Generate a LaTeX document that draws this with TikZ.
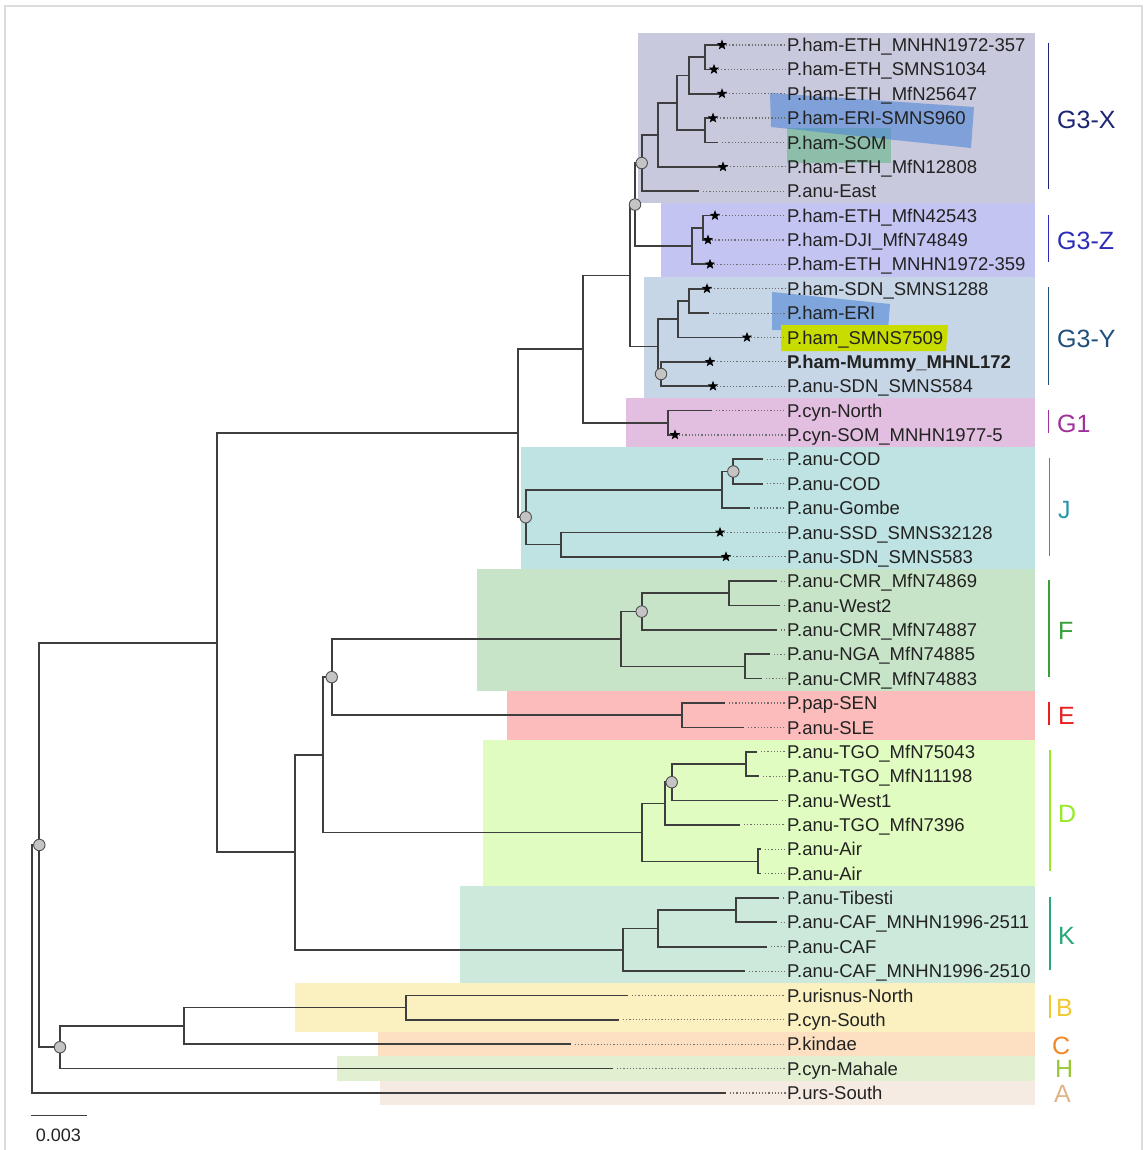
\documentclass[tikz,border=0pt]{standalone}
\usepackage{fontspec}
\setmainfont{Liberation Sans}
\usetikzlibrary{shapes.geometric}
\definecolor{treeC}{HTML}{3E3E3E}
\definecolor{dotC}{HTML}{6E6E6E}
\definecolor{labC}{HTML}{222222}
\definecolor{circF}{HTML}{C4C4C4}
\definecolor{circD}{HTML}{505050}
\definecolor{frameC}{HTML}{DCDCDC}
\definecolor{bgX}{HTML}{C9C9DD}
\definecolor{bgZ}{HTML}{C4C4F2}
\definecolor{bgY}{HTML}{C6D6E6}
\definecolor{bgGa}{HTML}{E2BEE0}
\definecolor{bgJ}{HTML}{BFE2E2}
\definecolor{bgF}{HTML}{C8E4C8}
\definecolor{bgE}{HTML}{FCBCBC}
\definecolor{bgD}{HTML}{E0FCC0}
\definecolor{bgK}{HTML}{CDE9DC}
\definecolor{bgB}{HTML}{FAF0C0}
\definecolor{bgC}{HTML}{FDE0C2}
\definecolor{bgH}{HTML}{E2F0D2}
\definecolor{bgA}{HTML}{F5EBE2}
\definecolor{hlBlue}{HTML}{4F86D6}
\definecolor{hlGreen}{HTML}{86BDA4}
\definecolor{hlYellow}{HTML}{C8DC00}
\definecolor{gX}{HTML}{1C2473}
\definecolor{gZ}{HTML}{2B2BB8}
\definecolor{gY}{HTML}{1F4F7A}
\definecolor{gGa}{HTML}{A0309A}
\definecolor{gJ}{HTML}{2898A8}
\definecolor{gF}{HTML}{38A038}
\definecolor{gE}{HTML}{E82020}
\definecolor{gD}{HTML}{98E828}
\definecolor{gK}{HTML}{28A878}
\definecolor{gB}{HTML}{F0C830}
\definecolor{gC}{HTML}{F08828}
\definecolor{gH}{HTML}{98C838}
\definecolor{gA}{HTML}{E0B488}
\newcommand{\mkleaf}[4]{%
  \coordinate (t#1) at (#3,#2);
  \node[lab] (l#1) at (787,#2) {#4};
  \draw[dotl] (t#1) -- (l#1.west);}
\newcommand{\kids}[3]{\draw[br] (#2) -| (#1) |- (#3);}
\begin{document}
\begin{tikzpicture}[x=1pt,y=-1pt,
  br/.style={line width=1.7pt, draw=treeC},
  dotl/.style={draw=dotC, line width=1.2pt, dash pattern=on 1.2pt off 2pt, shorten <=4pt, shorten >=1.5pt},
  lab/.style={anchor=west, inner sep=0pt, text height=13.2pt, text depth=0pt, font=\fontsize{18.5}{22}\selectfont, text=labC},
  starm/.style={star, star points=5, star point ratio=2.4, fill=black, draw=none, minimum size=11pt, inner sep=0pt},
  circm/.style={circle, fill=circF, draw=circD, line width=0.9pt, minimum size=11.5pt, inner sep=0pt},
  glab/.style={anchor=west, inner sep=0pt, text height=18pt, text depth=0pt, font=\fontsize{25}{28}\selectfont},
  gbar/.style={line width=1.3pt}]
\useasboundingbox (0,0) rectangle (1146,1150);
% frame
\draw[frameC, line width=2pt] (4.5,1150) -- (4.5,6.5) -- (1141.5,6.5) -- (1141.5,1150);
% group backgrounds
\fill[bgX] (638,32.8) rectangle (1035,203.4);
\fill[bgZ] (661,203.4) rectangle (1035,276.5);
\fill[bgY] (644,276.5) rectangle (1035,398.4);
\fill[bgGa] (626,398.4) rectangle (1035,447.1);
\fill[bgJ] (521,447.1) rectangle (1035,569.0);
\fill[bgF] (477,569.0) rectangle (1035,690.8);
\fill[bgE] (507,690.8) rectangle (1035,739.6);
\fill[bgD] (483,739.6) rectangle (1035,885.8);
\fill[bgK] (460,885.8) rectangle (1035,983.3);
\fill[bgB] (295,983.3) rectangle (1035,1032.0);
\fill[bgC] (378,1032.0) rectangle (1035,1056.4);
\fill[bgH] (337,1056.4) rectangle (1035,1080.7);
\fill[bgA] (380,1080.7) rectangle (1035,1105.1);
% highlights
\fill[hlGreen, opacity=0.9] (787,128) rectangle (891,163);
\fill[hlBlue, opacity=0.6] (770,93) -- (974,107) -- (971,148) -- (771,127) -- cycle;
\fill[hlBlue, opacity=0.6] (772,292) -- (890,304) -- (888,331) -- (772,330) -- cycle;
\fill[hlYellow] (781,325) -- (948,325) -- (946,351) -- (781,351) -- cycle;
% leaves
\mkleaf{1}{45.0}{722}{P.ham-ETH\_MNHN1972-357}
\mkleaf{2}{69.4}{714}{P.ham-ETH\_SMNS1034}
\mkleaf{3}{93.7}{722}{P.ham-ETH\_MfN25647}
\mkleaf{4}{118.1}{713}{P.ham-ERI-SMNS960}
\mkleaf{5}{142.5}{718}{P.ham-SOM}
\mkleaf{6}{166.9}{723}{P.ham-ETH\_MfN12808}
\mkleaf{7}{191.2}{699}{P.anu-East}
\mkleaf{8}{215.6}{715}{P.ham-ETH\_MfN42543}
\mkleaf{9}{240.0}{708}{P.ham-DJI\_MfN74849}
\mkleaf{10}{264.3}{710}{P.ham-ETH\_MNHN1972-359}
\mkleaf{11}{288.7}{707}{P.ham-SDN\_SMNS1288}
\mkleaf{12}{313.1}{709}{P.ham-ERI}
\mkleaf{13}{337.4}{747}{P.ham\_SMNS7509}
\mkleaf{14}{361.8}{710}{\bfseries P.ham-Mummy\_MHNL172}
\mkleaf{15}{386.2}{713}{P.anu-SDN\_SMNS584}
\mkleaf{16}{410.6}{712}{P.cyn-North}
\mkleaf{17}{434.9}{675}{P.cyn-SOM\_MNHN1977-5}
\mkleaf{18}{459.3}{763}{P.anu-COD}
\mkleaf{19}{483.7}{763}{P.anu-COD}
\mkleaf{20}{508.0}{750}{P.anu-Gombe}
\mkleaf{21}{532.4}{720}{P.anu-SSD\_SMNS32128}
\mkleaf{22}{556.8}{726}{P.anu-SDN\_SMNS583}
\mkleaf{23}{581.1}{777}{P.anu-CMR\_MfN74869}
\mkleaf{24}{605.5}{780}{P.anu-West2}
\mkleaf{25}{629.9}{777}{P.anu-CMR\_MfN74887}
\mkleaf{26}{654.3}{770}{P.anu-NGA\_MfN74885}
\mkleaf{27}{678.6}{762}{P.anu-CMR\_MfN74883}
\mkleaf{28}{703.0}{725}{P.pap-SEN}
\mkleaf{29}{727.4}{744}{P.anu-SLE}
\mkleaf{30}{751.7}{757}{P.anu-TGO\_MfN75043}
\mkleaf{31}{776.1}{759}{P.anu-TGO\_MfN11198}
\mkleaf{32}{800.5}{778}{P.anu-West1}
\mkleaf{33}{824.8}{740}{P.anu-TGO\_MfN7396}
\mkleaf{34}{849.2}{761}{P.anu-Air}
\mkleaf{35}{873.6}{761}{P.anu-Air}
\mkleaf{36}{897.9}{779}{P.anu-Tibesti}
\mkleaf{37}{922.3}{777}{P.anu-CAF\_MNHN1996-2511}
\mkleaf{38}{946.7}{767}{P.anu-CAF}
\mkleaf{39}{971.1}{745}{P.anu-CAF\_MNHN1996-2510}
\mkleaf{40}{995.4}{628}{P.urisnus-North}
\mkleaf{41}{1019.8}{619}{P.cyn-South}
\mkleaf{42}{1044.2}{571}{P.kindae}
\mkleaf{43}{1068.5}{613}{P.cyn-Mahale}
\mkleaf{44}{1092.9}{726}{P.urs-South}
% internal nodes
\coordinate (nA) at (705,57.2);
\coordinate (nB) at (689,75.45);
\coordinate (nC) at (705,130.3);
\coordinate (nD) at (677,102.9);
\coordinate (nE) at (658,134.9);
\coordinate (nX) at (641.7,163.05);
\coordinate (nF) at (703,227.8);
\coordinate (nZ) at (692,246.05);
\coordinate (nXZ) at (635,204.55);
\coordinate (nG) at (689,300.9);
\coordinate (nH) at (678,319.15);
\coordinate (nI) at (661,374);
\coordinate (nY) at (657.7,346.6);
\coordinate (nXZY) at (630,275.6);
\coordinate (nGa) at (668,422.75);
\coordinate (nGb) at (583,349.2);
\coordinate (nJa) at (733.3,471.5);
\coordinate (nJb) at (722,489.75);
\coordinate (nJc) at (560.7,544.6);
\coordinate (nJ) at (525.7,517.2);
\coordinate (nGJ) at (517.7,433.2);
\coordinate (nFa) at (729.3,593.3);
\coordinate (nFb) at (641.7,611.6);
\coordinate (nFc) at (745,666.45);
\coordinate (nFF) at (621,639.0);
\coordinate (nEE) at (681.7,715.2);
\coordinate (nFE) at (331.7,677.1);
\coordinate (nDa) at (746,763.9);
\coordinate (nDb) at (671.7,782.2);
\coordinate (nDc) at (665,803.5);
\coordinate (nDd) at (758.3,861.4);
\coordinate (nDD) at (641.7,832.45);
\coordinate (nFED) at (323.3,754.8);
\coordinate (nKa) at (736,910.1);
\coordinate (nKb) at (657.7,928.4);
\coordinate (nKK) at (623.3,949.75);
\coordinate (nFEDK) at (295,852.3);
\coordinate (nBig) at (217.3,642.75);
\coordinate (nBB) at (406,1007.6);
\coordinate (nBC) at (184,1025.9);
\coordinate (nBCH) at (60,1047.2);
\coordinate (nIn) at (39.3,844.97);
\coordinate (nRoot) at (31.7,968.9);
% branches
\kids{nA}{t1}{t2}
\kids{nB}{nA}{t3}
\kids{nC}{t4}{t5}
\kids{nD}{nB}{nC}
\kids{nE}{nD}{t6}
\kids{nX}{nE}{t7}
\kids{nF}{t8}{t9}
\kids{nZ}{nF}{t10}
\kids{nXZ}{nX}{nZ}
\kids{nG}{t11}{t12}
\kids{nH}{nG}{t13}
\kids{nI}{t14}{t15}
\kids{nY}{nH}{nI}
\kids{nXZY}{nXZ}{nY}
\kids{nGa}{t16}{t17}
\kids{nGb}{nXZY}{nGa}
\kids{nJa}{t18}{t19}
\kids{nJb}{nJa}{t20}
\kids{nJc}{t21}{t22}
\kids{nJ}{nJb}{nJc}
\kids{nGJ}{nGb}{nJ}
\kids{nFa}{t23}{t24}
\kids{nFb}{nFa}{t25}
\kids{nFc}{t26}{t27}
\kids{nFF}{nFb}{nFc}
\kids{nEE}{t28}{t29}
\kids{nFE}{nFF}{nEE}
\kids{nDa}{t30}{t31}
\kids{nDb}{nDa}{t32}
\kids{nDc}{nDb}{t33}
\kids{nDd}{t34}{t35}
\kids{nDD}{nDc}{nDd}
\kids{nFED}{nFE}{nDD}
\kids{nKa}{t36}{t37}
\kids{nKb}{nKa}{t38}
\kids{nKK}{nKb}{t39}
\kids{nFEDK}{nFED}{nKK}
\kids{nBig}{nGJ}{nFEDK}
\kids{nBB}{t40}{t41}
\kids{nBC}{nBB}{t42}
\kids{nBCH}{nBC}{t43}
\kids{nIn}{nBig}{nBCH}
\kids{nRoot}{nIn}{t44}
% support circles
\node[circm] (cX) at (nX) {};
\node[circm] (cXZ) at (nXZ) {};
\node[circm] (cI) at (nI) {};
\node[circm] (cJ) at (nJ) {};
\node[circm] (cJa) at (nJa) {};
\node[circm] (cFb) at (nFb) {};
\node[circm] (cFE) at (nFE) {};
\node[circm] (cDb) at (nDb) {};
\node[circm] (cIn) at (nIn) {};
\node[circm] (cBCH) at (nBCH) {};
% stars
\foreach \i in {1,2,3,4,6,8,9,10,11,13,14,15,17,21,22}
  \node[starm] (s\i) at (t\i) {};
% group bars and labels
\draw[gbar, gX] (1048.5,43) -- (1048.5,189);
\node[glab, text=gX] (gl1) at (1057,120) {G3-X};
\draw[gbar, gZ] (1048.5,215) -- (1048.5,262);
\node[glab, text=gZ] (gl2) at (1057,240) {G3-Z};
\draw[gbar, gY] (1048.5,287) -- (1048.5,385);
\node[glab, text=gY] (gl3) at (1057,338) {G3-Y};
\draw[gbar, gGa] (1048.5,410) -- (1048.5,433);
\node[glab, text=gGa] (gl4) at (1057,423) {G1};
\draw[gbar, gJ] (1049.5,458) -- (1049.5,556);
\node[glab, text=gJ] (gl5) at (1058,509) {J};
\draw[gbar, gF] (1049,580) -- (1049,677);
\node[glab, text=gF] (gl6) at (1058,630) {F};
\draw[gbar, gE] (1049,702) -- (1049,725);
\node[glab, text=gE] (gl7) at (1058,715) {E};
\draw[gbar, gD] (1050,750) -- (1050,871);
\node[glab, text=gD] (gl8) at (1058,813) {D};
\draw[gbar, gK] (1050,897) -- (1050,970);
\node[glab, text=gK] (gl9) at (1058,935) {K};
\draw[gbar, gB] (1050,995) -- (1050,1018);
\node[glab, text=gB] (gl10) at (1056,1007) {B};
\node[glab, text=gC] (gl11) at (1052,1045) {C};
\node[glab, text=gH] (gl12) at (1055,1068) {H};
\node[glab, text=gA] (gl13) at (1054,1093) {A};
% scale bar
\coordinate (sb1) at (30.5,1115.5);
\coordinate (sb2) at (87.3,1115.5);
\draw[br] (sb1) -- (sb2);
\node[inner sep=0pt, font=\fontsize{18}{20}\selectfont, text=labC] (sbl) at (58.3,1135) {0.003};
\end{tikzpicture}
\end{document}
